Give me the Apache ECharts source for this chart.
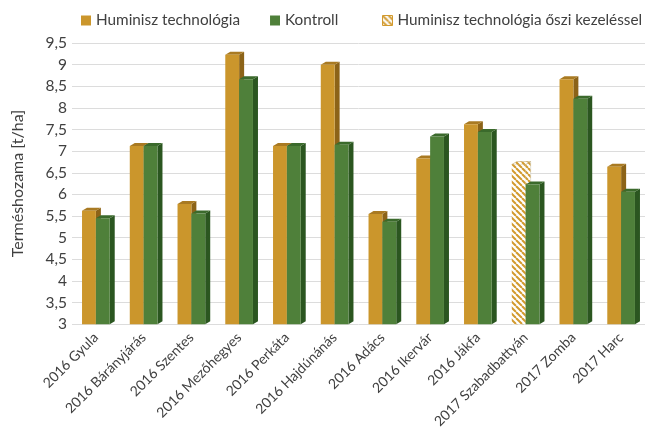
<!DOCTYPE html>
<html><head><meta charset="utf-8">
<script src="https://cdn.jsdelivr.net/npm/echarts@6/dist/echarts.min.js"></script>
<style>html,body{margin:0;padding:0;background:#fff}#c{width:655px;height:431px}</style>
</head><body><div id="c"></div>
<script>
const categories = ['2016 Gyula','2016 Bárányjárás','2016 Szentes','2016 Mezőhegyes','2016 Perkáta','2016 Hajdúnánás','2016 Adács','2016 Ikervár','2016 Jákfa','2017 Szabadbattyán','2017 Zomba','2017 Harc'];
const humin = [5.62, 7.12, 5.78, 9.23, 7.12, 9.0, 5.55, 6.83, 7.62, null, 8.66, 6.64];
const kontroll = [5.45, 7.12, 5.56, 8.66, 7.12, 7.15, 5.37, 7.34, 7.44, 6.23, 8.21, 6.06];
const huminOsz = [null, null, null, null, null, null, null, null, null, 6.69, null, null];
const yMin = 3, yMax = 9.5, yStep = 0.5;
const names = ['Huminisz technológia', 'Kontroll', 'Huminisz technológia őszi kezeléssel'];

const FONT = 'Lato';
const C = {
  o: {front:'#CB962C', side:'#8C6318', top:'#A97A22'},
  g: {front:'#4F803A', side:'#2B5620', top:'#3B6A2C'}
};
function makePattern(){
  const cv = document.createElement('canvas');
  cv.width = 6; cv.height = 6;
  const ctx = cv.getContext('2d');
  ctx.fillStyle = '#fff'; ctx.fillRect(0,0,6,6);
  ctx.strokeStyle = '#D29A2E'; ctx.lineWidth = 2;
  for (const k of [-6,0,6]) { ctx.beginPath(); ctx.moveTo(k,0); ctx.lineTo(k+6,6); ctx.stroke(); }
  return {image: cv, repeat: 'repeat'};
}
const pat = makePattern();

function render(slot, cols, hatched){
  return function(params, api){
    const v = api.value(1);
    if (v == null || isNaN(v)) return;
    const cat = api.value(0);
    const top = api.coord([cat, v]);
    const base = api.coord([cat, yMin]);
    const bw = api.size([1,0])[0];
    const w = bw*0.29;
    const dx = 5, dy = -3;
    const x0 = slot === 0 ? top[0]-w : top[0];
    const h = base[1]-top[1];
    const ff = hatched ? pat : cols.front;
    const sf = hatched ? pat : cols.side;
    const tf = hatched ? pat : cols.top;
    return {type:'group', children:[
      {type:'polygon', shape:{points:[[x0+w,top[1]],[x0+w+dx,top[1]+dy],[x0+w+dx,base[1]+dy],[x0+w,base[1]]]}, style:{fill:sf, stroke: hatched ? '#c9c0a8' : null, lineWidth: hatched?0.5:0}},
      {type:'polygon', shape:{points:[[x0,top[1]],[x0+dx,top[1]+dy],[x0+w+dx,top[1]+dy],[x0+w,top[1]]]}, style:{fill:tf, stroke: hatched ? '#b89a5a' : null, lineWidth: hatched?0.5:0}},
      {type:'rect', shape:{x:x0, y:top[1], width:w, height:h}, style:{fill:ff}}
    ]};
  };
}
const toData = arr => arr.map((v,i) => [i, v]);

const legendText = {fontFamily:FONT, fontSize:15.3, color:'#404040'};
const chart = echarts.init(document.getElementById('c'));
chart.setOption({
  animation:false,
  textStyle:{fontFamily:FONT},
  legend:[{
    top:8, left:76, itemWidth:10, itemHeight:10, itemGap:30,
    textStyle:legendText,
    data:[
      {name:names[0], icon:'rect', itemStyle:{color:C.o.front}},
      {name:names[1], icon:'rect', itemStyle:{color:C.g.front}}
    ]
  },{
    top:8, left:377, itemWidth:10, itemHeight:10,
    textStyle:legendText,
    data:[
      {name:names[2], icon:'rect', itemStyle:{color:pat, borderColor:'#D29A2E', borderWidth:1}}
    ]
  }],
  grid:{left:72, right:10, top:43, bottom:106},
  xAxis:{
    type:'category', data:categories,
    axisLine:{show:false}, axisTick:{show:false},
    axisLabel:{rotate:45, interval:0, margin:11, fontSize:14, color:'#404040', fontFamily:FONT}
  },
  yAxis:{
    type:'value', min:yMin, max:yMax, interval:yStep,
    name:'Terméshozama [t/ha]', nameLocation:'middle', nameGap:46,
    nameTextStyle:{fontSize:16, color:'#404040', fontFamily:FONT},
    axisLine:{show:false}, axisTick:{show:false},
    axisLabel:{margin:5, fontSize:15.5, color:'#404040', fontFamily:FONT, formatter:v => String(v).replace('.', ',')},
    splitLine:{lineStyle:{color:'#dcdcdc', width:1}}
  },
  series:[
    {name:names[0], type:'custom', itemStyle:{color:C.o.front}, renderItem:render(0, C.o, false), data:toData(humin), encode:{x:0,y:1}},
    {name:names[2], type:'custom', itemStyle:{color:'#D29A2E'}, renderItem:render(0, C.o, true), data:toData(huminOsz), encode:{x:0,y:1}},
    {name:names[1], type:'custom', itemStyle:{color:C.g.front}, renderItem:render(1, C.g, false), data:toData(kontroll), encode:{x:0,y:1}}
  ]
});
</script></body></html>
